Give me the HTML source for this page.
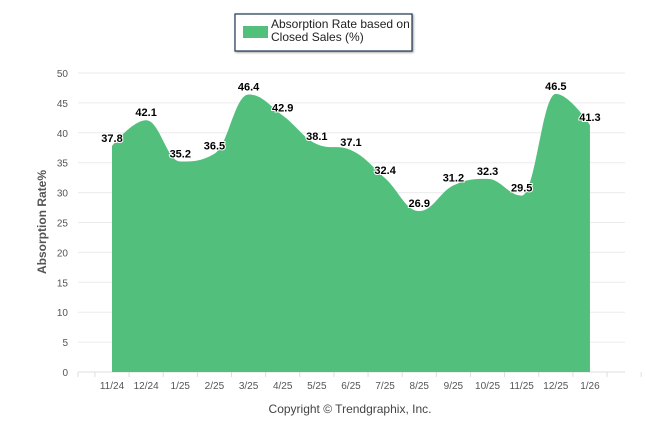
<!DOCTYPE html>
<html><head><meta charset="utf-8"><style>
body{margin:0;background:#fff;font-family:"Liberation Sans",sans-serif}
</style></head><body>
<svg width="646" height="434" xmlns="http://www.w3.org/2000/svg">
<g id="grid"></g>
<g id="area"></g>
<g id="labels"></g>
<g id="axes"></g>
<text x="46" y="222" transform="rotate(-90 46 222)" text-anchor="middle" font-size="12" font-weight="bold" fill="#555">Absorption Rate%</text>
<text x="350" y="413" text-anchor="middle" font-size="12" fill="#444">Copyright © Trendgraphix, Inc.</text>
<g>
<rect x="235" y="14" width="177" height="37" fill="#fff" stroke="#1f3555" stroke-width="1.2" style="filter:drop-shadow(1px 1px 1px #999)"/>
<rect x="243" y="26" width="25" height="12" fill="#52c07c"/>
<text x="271" y="28" font-size="12" fill="#222">Absorption Rate based on</text>
<text x="271" y="41" font-size="12" fill="#222">Closed Sales (%)</text>
</g>
</svg>
<script>
const categories=["11/24","12/24","1/25","2/25","3/25","4/25","5/25","6/25","7/25","8/25","9/25","10/25","11/25","12/25","1/26"];
const values=[37.8,42.1,35.2,36.5,46.4,42.9,38.1,37.1,32.4,26.9,31.2,32.3,29.5,46.5,41.3];
const yTicks=[0,5,10,15,20,25,30,35,40,45,50];
const NS="http://www.w3.org/2000/svg";
const x0=112,dx=34.14,yb=372,ys=(372-73)/50;
const X=i=>x0+i*dx, Y=v=>yb-v*ys;
function mk(t,a,p){const e=document.createElementNS(NS,t);for(const k in a)e.setAttribute(k,a[k]);p.appendChild(e);return e;}
const grid=document.getElementById('grid'),axes=document.getElementById('axes');
yTicks.forEach(t=>{
 const l=mk('line',{x1:78,x2:625,y1:Y(t),y2:Y(t),stroke:t===0?'#ddd':'#ebebeb','stroke-width':1},grid);
 
 const tx=mk('text',{x:68,y:Y(t)+4,'text-anchor':'end','font-size':10,fill:'#555'},axes);
 tx.textContent=t;
});
for(let i=-1;i<=categories.length;i++){const xx=X(i)+dx/2;mk('line',{x1:xx,x2:xx,y1:yb,y2:yb+5,stroke:'#ddd'},axes);}
mk('line',{x1:78,x2:78,y1:yb,y2:yb+5,stroke:'#ddd'},axes);
categories.forEach((c,i)=>{const t=mk('text',{x:X(i),y:yb+17,'text-anchor':'middle','font-size':10,fill:'#555'},axes);t.textContent=c;
 });
// Highcharts-like spline
const pts=values.map((v,i)=>[X(i),Y(v)]);
let d=`M${pts[0][0]},${yb} L${pts[0][0]},${pts[0][1]}`;
function ctrl(i){const s=1.5,den=2.5,p=pts[i],a=pts[i-1],b=pts[i+1];
 if(!a||!b)return [p,p];
 let lx=(s*p[0]+a[0])/den,ly=(s*p[1]+a[1])/den,rx=(s*p[0]+b[0])/den,ry=(s*p[1]+b[1])/den;
 let corr=0;if(rx!==lx)corr=((ry-ly)*(rx-p[0]))/(rx-lx)+p[1]-ry;
 ly+=corr;ry+=corr;
 if(ly>a[1]&&ly>p[1]){ly=Math.max(a[1],p[1]);ry=2*p[1]-ly;}else if(ly<a[1]&&ly<p[1]){ly=Math.min(a[1],p[1]);ry=2*p[1]-ly;}
 if(ry>b[1]&&ry>p[1]){ry=Math.max(b[1],p[1]);ly=2*p[1]-ry;}else if(ry<b[1]&&ry<p[1]){ry=Math.min(b[1],p[1]);ly=2*p[1]-ry;}
 return [[lx,ly],[rx,ry]];}
const C=pts.map((_,i)=>ctrl(i));
for(let i=1;i<pts.length;i++){const c1=C[i-1][1],c2=C[i][0];d+=` C${c1[0]},${c1[1]} ${c2[0]},${c2[1]} ${pts[i][0]},${pts[i][1]}`;}
d+=` L${pts[pts.length-1][0]},${yb} Z`;
const area=mk('path',{d:d,fill:'#52c07c'},document.getElementById('area'));

const lab=document.getElementById('labels');
values.forEach((v,i)=>{const t=mk('text',{x:X(i),y:Y(v)-4,'text-anchor':'middle','font-size':11,'font-weight':'bold',fill:'#000',stroke:'#fff','stroke-width':2,'paint-order':'stroke'},lab);
 t.textContent=v.toFixed(1);});
</script>
</body></html>
